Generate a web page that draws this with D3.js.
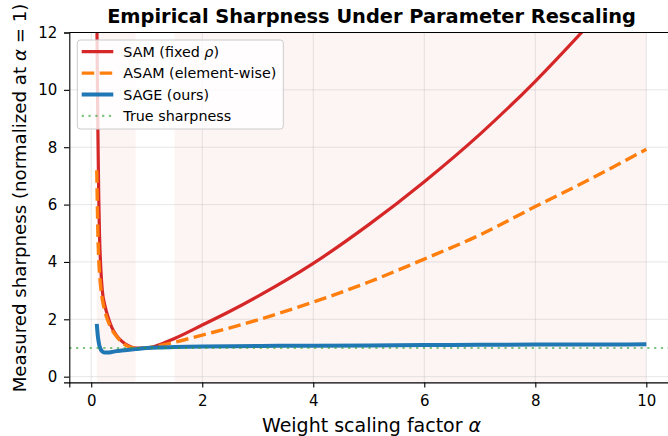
<!DOCTYPE html>
<html>
<head>
<meta charset="utf-8">
<script src="https://cdn.jsdelivr.net/npm/d3@7"></script>
<style>
body { margin: 0; background: #fff; }
svg { display: block; font-family: "DejaVu Sans", sans-serif; }
</style>
</head>
<body>
<svg width="668" height="436"></svg>
<script>
// weight scaling factor (x) and measured sharpness per method
var alpha = [0.1, 0.11, 0.12, 0.135, 0.15, 0.175, 0.2, 0.25, 0.3, 0.37, 0.45, 0.55, 0.65, 0.8, 1.0, 1.25, 1.5, 2, 2.5, 3, 4, 5, 6, 7, 8, 9, 10];
var samVals  = [13.0, 10.5, 8.6, 6.3, 4.9, 3.7, 3.0, 2.45, 2.1, 1.72, 1.45, 1.24, 1.1, 1.0, 1.0, 1.13, 1.33, 1.8, 2.28, 2.8, 3.95, 5.3, 6.8, 8.45, 10.3, 12.35, 14.5];
var asamVals = [7.2, 6.0, 5.0, 4.1, 3.6, 3.05, 2.7, 2.25, 1.95, 1.65, 1.42, 1.2, 1.07, 0.99, 1.0, 1.09, 1.2, 1.45, 1.7, 1.98, 2.6, 3.3, 4.1, 4.94, 5.93, 6.9, 7.93];
var sageVals = [1.84, 1.6, 1.4, 1.2, 1.06, 0.94, 0.88, 0.84, 0.84, 0.86, 0.89, 0.91, 0.93, 0.96, 1.0, 1.02, 1.03, 1.05, 1.06, 1.07, 1.08, 1.09, 1.1, 1.11, 1.12, 1.12, 1.13];
var trueSharpness = 1;
var unstableSpans = [[0.1, 0.8], [1.5, 10]];
var xTicks = [0, 2, 4, 6, 8, 10];
var yTicks = [0, 2, 4, 6, 8, 10, 12];

var svg = d3.select("svg"),
    width = +svg.attr("width"),
    height = +svg.attr("height");

var pl = 69.3, pr = 673.8, pt = 32.5, pb = 382.4;

var x = d3.scaleLinear().domain([-0.395, 10.495]).range([pl, pr]);
var y = d3.scaleLinear().domain([-0.2, 12]).range([pb, pt]);

svg.append("defs").append("clipPath").attr("id", "clip")
  .append("rect").attr("x", pl).attr("y", pt).attr("width", pr - pl).attr("height", pb - pt);

var plot = svg.append("g").attr("clip-path", "url(#clip)");

plot.selectAll(".span").data(unstableSpans).enter().append("rect")
  .attr("x", function(d) { return x(d[0]); })
  .attr("width", function(d) { return x(d[1]) - x(d[0]); })
  .attr("y", pt).attr("height", pb - pt)
  .attr("fill", "#d62728").attr("fill-opacity", 0.05);

// grid
plot.selectAll(".gx").data(xTicks).enter().append("line")
  .attr("x1", function(d) { return x(d); }).attr("x2", function(d) { return x(d); })
  .attr("y1", pt).attr("y2", pb)
  .attr("stroke", "#b0b0b0").attr("stroke-opacity", 0.3).attr("stroke-width", 1);
plot.selectAll(".gy").data(yTicks).enter().append("line")
  .attr("y1", function(d) { return y(d); }).attr("y2", function(d) { return y(d); })
  .attr("x1", pl).attr("x2", pr)
  .attr("stroke", "#b0b0b0").attr("stroke-opacity", 0.3).attr("stroke-width", 1);

var line = function(vals) {
  return d3.line()
    .x(function(d, i) { return x(alpha[i]); })
    .y(function(d) { return y(d); })
    .curve(d3.curveMonotoneX)(vals);
};

plot.append("path").attr("d", line(samVals))
  .attr("fill", "none").attr("stroke", "#d62728").attr("stroke-width", 3.2);
plot.append("path").attr("d", line(asamVals))
  .attr("fill", "none").attr("stroke", "#ff7f0e").attr("stroke-width", 3.4)
  .attr("stroke-dasharray", "12.5,5.5");
plot.append("path").attr("d", line(sageVals))
  .attr("fill", "none").attr("stroke", "#1f77b4").attr("stroke-width", 4);
plot.append("line")
  .attr("x1", pl).attr("x2", pr)
  .attr("y1", y(trueSharpness)).attr("y2", y(trueSharpness))
  .attr("stroke", "#2ca02c").attr("stroke-opacity", 0.6).attr("stroke-width", 2.2)
  .attr("stroke-dasharray", "2.2,4.6");

// axes
var xAxis = svg.append("g").attr("transform", "translate(0," + pb + ")")
  .call(d3.axisBottom(x).tickValues(xTicks).tickSize(5).tickPadding(7.5).tickFormat(d3.format("d")));
var yAxis = svg.append("g").attr("transform", "translate(" + pl + ",0)")
  .call(d3.axisLeft(y).tickValues(yTicks).tickSize(5.3).tickPadding(6.7).tickFormat(d3.format("d")));
[xAxis, yAxis].forEach(function(a) {
  a.select(".domain").attr("stroke", "#000").attr("stroke-width", 1.1);
  a.selectAll(".tick line").attr("stroke", "#000").attr("stroke-width", 1.1);
  a.selectAll(".tick text").attr("fill", "#000").style("font-size", "15px")
    .style("font-family", "DejaVu Sans");
});
svg.append("line").attr("x1", pl).attr("x2", pr).attr("y1", pt).attr("y2", pt)
  .attr("stroke", "#000").attr("stroke-width", 1.1);
svg.append("line").attr("x1", pr).attr("x2", pr).attr("y1", pt).attr("y2", pb)
  .attr("stroke", "#000").attr("stroke-width", 1.1);

// labels
svg.append("text").attr("x", (pl + pr) / 2).attr("y", 22.7)
  .attr("text-anchor", "middle").style("font-size", "19.4px").style("font-weight", "bold")
  .text("Empirical Sharpness Under Parameter Rescaling");

var xl = svg.append("text").attr("x", (pl + pr) / 2).attr("y", 431.6)
  .attr("text-anchor", "middle").style("font-size", "19px");
xl.append("tspan").text("Weight scaling factor ");
xl.append("tspan").style("font-style", "italic").text("α");

var yl = svg.append("text")
  .attr("transform", "translate(26,198) rotate(-90)")
  .attr("text-anchor", "middle").style("font-size", "18.2px");
yl.append("tspan").text("Measured sharpness (normalized at ");
yl.append("tspan").style("font-style", "italic").text("α");
yl.append("tspan").text(" = 1)");

// legend
var legendItems = [
  { label: "SAM (fixed ", math: "ρ", tail: ")", color: "#d62728", dash: null, w: 3.2, op: 1 },
  { label: "ASAM (element-wise)", color: "#ff7f0e", dash: "12.5,5.5", w: 3.4, op: 1 },
  { label: "SAGE (ours)", color: "#1f77b4", dash: null, w: 4, op: 1 },
  { label: "True sharpness", color: "#2ca02c", dash: "2.2,4.6", w: 2.2, op: 0.6 }
];
var lg = svg.append("g");
lg.append("rect").attr("x", 77.3).attr("y", 40).attr("width", 206).attr("height", 89)
  .attr("rx", 3).attr("fill", "#fff").attr("fill-opacity", 0.8)
  .attr("stroke", "#cccccc").attr("stroke-width", 1);
var rows = lg.selectAll(".row").data(legendItems).enter().append("g")
  .attr("transform", function(d, i) { return "translate(0," + (51.7 + i * 21.4) + ")"; });
rows.append("line").attr("x1", 81.7).attr("x2", 113.3).attr("y1", 0).attr("y2", 0)
  .attr("stroke", function(d) { return d.color; })
  .attr("stroke-width", function(d) { return d.w; })
  .attr("stroke-opacity", function(d) { return d.op; })
  .attr("stroke-dasharray", function(d) { return d.dash; });
var lt = rows.append("text").attr("x", 123.3).attr("y", 5.2).style("font-size", "14.3px");
lt.append("tspan").text(function(d) { return d.label; });
lt.append("tspan").style("font-style", "italic").text(function(d) { return d.math || ""; });
lt.append("tspan").text(function(d) { return d.tail || ""; });
</script>
</body>
</html>
